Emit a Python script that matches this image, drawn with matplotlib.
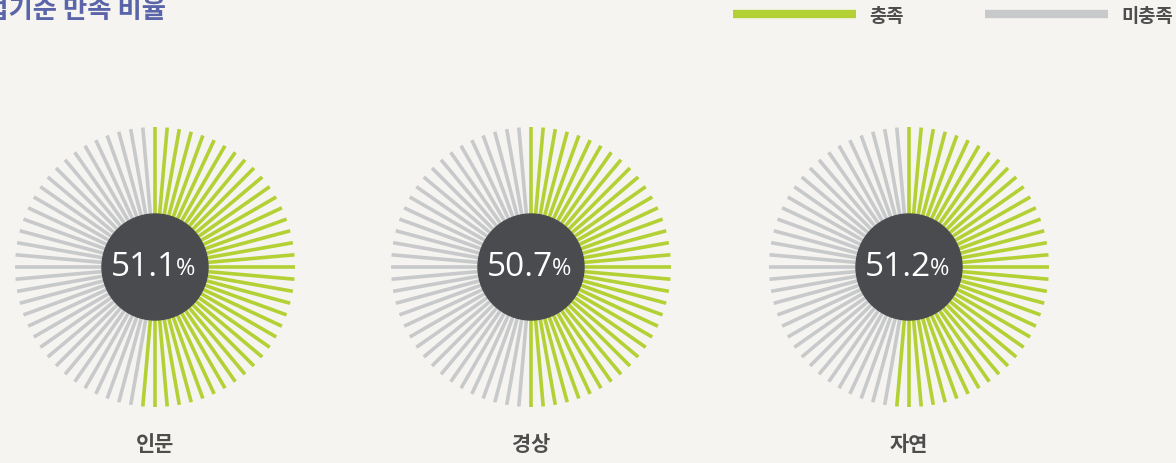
import numpy as np
import matplotlib
matplotlib.use("Agg")
import matplotlib.pyplot as plt
from matplotlib.collections import LineCollection
from matplotlib.patches import Circle

plt.rcParams['font.family'] = ['Noto Sans CJK KR', 'DejaVu Sans']

# data
categories = ['인문', '경상', '자연']
met_pct = [51.1, 50.7, 51.2]
legend_labels = ['충족', '미충족']
title = '졸업기준 만족 비율'

green = '#b3d135'
grey = '#c8c9cb'
dark = '#4a4b4e'
bg = '#f5f4f0'

n_spokes = 72
W, H = 1176, 464

fig = plt.figure(figsize=(W / 100, H / 100), dpi=100, facecolor=bg)
ax = fig.add_axes([0, 0, 1, 1])
ax.set_xlim(0, W)
ax.set_ylim(0, H)
ax.set_aspect('equal')
ax.axis('off')

centers_x = [155, 531, 909]
cy = 196
r_in, r_out = 30, 140

for cx, pct, name in zip(centers_x, met_pct, categories):
    ang = np.arange(n_spokes) * 360.0 / n_spokes
    t = np.radians(ang)
    segs = [[(cx + r_in * np.sin(a), cy + r_in * np.cos(a)),
             (cx + r_out * np.sin(a), cy + r_out * np.cos(a))] for a in t]
    # spokes up to the share of 'met' are green, clockwise from top
    cols = [green if a <= pct * 3.6 + 2 else grey for a in ang]
    lc = LineCollection(segs, colors=cols, linewidths=2.6, capstyle='butt')
    ax.add_collection(lc)
    ax.add_patch(Circle((cx, cy), 53, color=dark, zorder=3))
    num = '%.1f' % pct
    ax.text(cx + 22, cy, num, ha='right', va='center', color='white',
            fontsize=24, family='Open Sans', zorder=4)
    ax.text(cx + 21, cy - 1, '%', ha='left', va='center', color='white',
            fontsize=17, family='Open Sans', zorder=4)
    ax.text(cx, H - 445, name, ha='center', va='center', color='#4d4d4d',
            fontsize=15, fontweight='bold')

# title, cut at the left edge as in the source
ax.text(-40, H - 10, title, ha='left', va='center', color='#5a64a8',
        fontsize=19, fontweight='bold')

# legend
ax.plot([733, 856], [H - 15, H - 15], color=green, lw=6, solid_capstyle='butt')
ax.text(869, H - 16, legend_labels[0], ha='left', va='center', color='#4d4d4d',
        fontsize=13.5, fontweight='bold')
ax.plot([985, 1108], [H - 15, H - 15], color=grey, lw=6, solid_capstyle='butt')
ax.text(1121, H - 16, legend_labels[1], ha='left', va='center', color='#4d4d4d',
        fontsize=13.5, fontweight='bold')

fig.savefig('out.png', dpi=100, facecolor=bg)
